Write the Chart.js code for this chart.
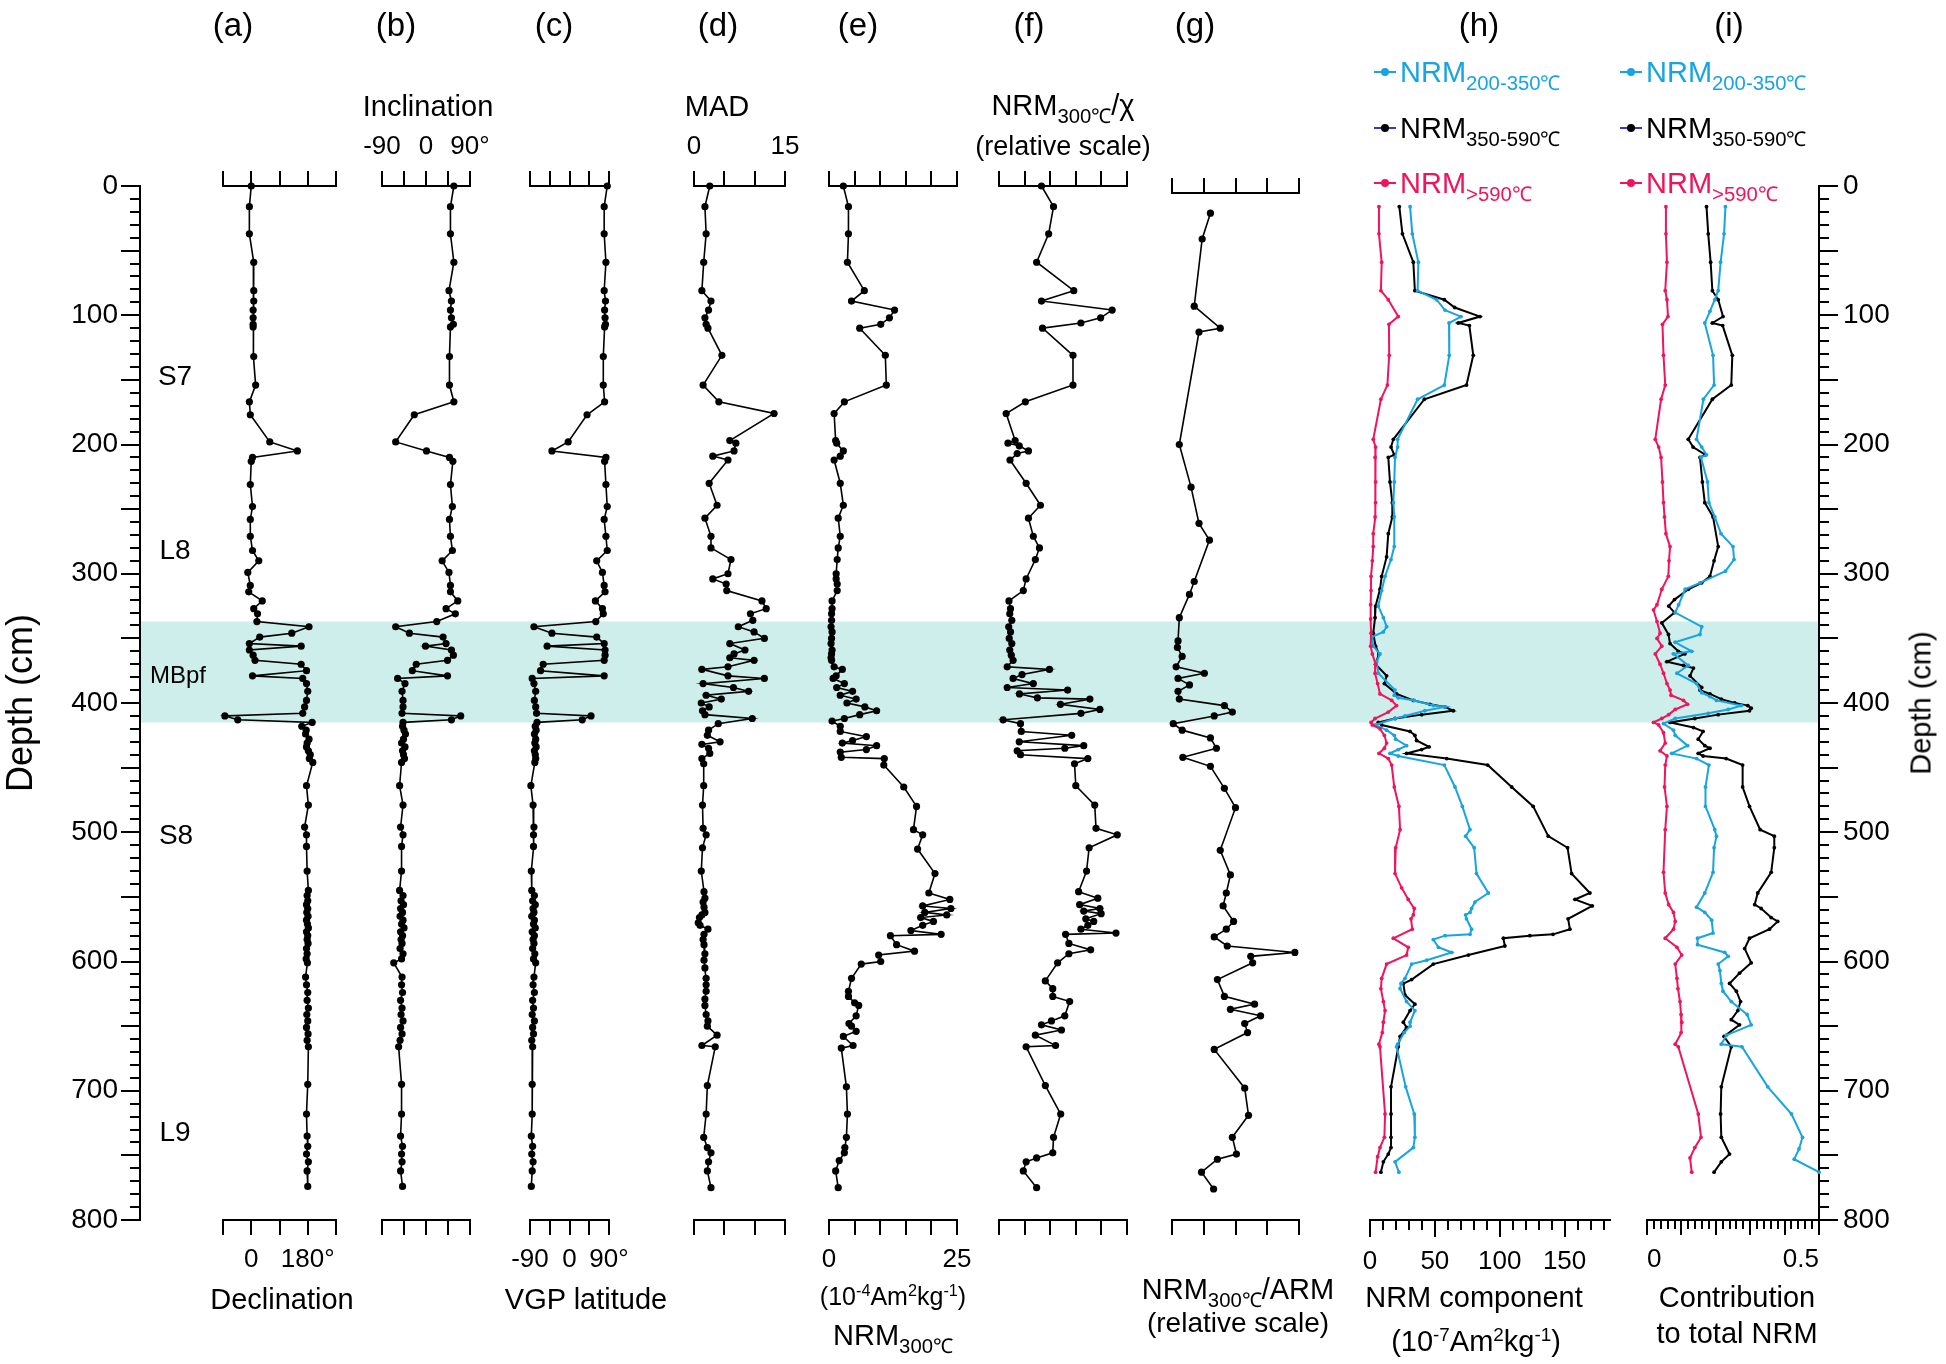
<!DOCTYPE html>
<html><head><meta charset="utf-8">
<script src="https://cdn.jsdelivr.net/npm/chart.js@4.4.1/dist/chart.umd.min.js"></script>
<style>
html,body{margin:0;padding:0;background:#fff;overflow:hidden;}
#wrap{position:relative;width:1946px;height:1364px;font-family:'Liberation Sans',Arial,Helvetica,sans-serif;color:#000;}
canvas{position:absolute;top:0;}
.t{position:absolute;transform:translate(-50%,-50%);white-space:nowrap;line-height:1;z-index:5;}
.t sub,.leg sub{font-size:0.7em;vertical-align:baseline;position:relative;top:0.38em;line-height:0;}
.t sup{font-size:0.65em;vertical-align:baseline;position:relative;top:-0.55em;line-height:0;}
.leg{position:absolute;transform:translateY(-50%);white-space:nowrap;line-height:1;font-size:29px;z-index:5;}
.mk{position:absolute;z-index:5;}
</style></head><body><div id="wrap"></div>
<script>
// ---------------- DATA ----------------
// Highlighted interval (MBpf), depth cm
const bandDepth = [337, 415];

// Panels a-c: paleomagnetic directions
const depthABC = [0,16,37,59,81,89,96,102,107,109, 132,154,167,177,198,205,210,213,231,248,
  258,271,282,290,299,309,314,321,327,331, 337,341,346,349,354,356,359,363,367,370,
  375,379,381,385,391,398,403,408,410,413, 415,418,421,424,428,431,434,437,440,443,
  446,464,479,496,502,511,530,545,549,553, 556,559,562,565,568,571,574,577,580,583,
  586,590,594,598,601,612,618,624,630,636, 641,646,651,656,661,666,695,718,735,743,
  749,755,762,774];
const declination = [0,-6,-6,8,8,8,6,6,6,6, 8,14,-6,-3,59,147,4,0,-3,4,
  -3,-3,4,24,-11,-3,-8,35,8,20, 18,184,129,27,-6,159,-6,6,12,159,
  176,4,164,176,180,176,170,164,-84,-43, 194,161,175,173,184,178,176,182,188,185,
  196,176,182,170,176,176,178,182,178,180, 176,180,177,181,176,179,182,176,180,178,
  181,176,178,175,179,173,176,180,178,182, 177,180,176,181,178,182,180,176,178,180,
  176,182,178,180];
const inclination = [57,50,50,57,47,52,50,52,56,50, 48,48,57,-24,-62,1,48,55,50,54,
  48,50,54,33,47,50,50,65,41,60, 22,-62,-34,35,41,-1,52,56,44,-20,
  -28,44,-58,-43,-49,-47,-47,-49,71,52, -47,-48,-45,-42,-46,-50,-43,-48,-46,-44,
  -50,-54,-47,-52,-47,-50,-50,-54,-47,-51, -46,-52,-48,-53,-47,-50,-45,-52,-48,-51,
  -49,-53,-47,-50,-66,-49,-50,-48,-52,-49, -51,-47,-52,-49,-53,-56,-50,-50,-52,-48,
  -50,-49,-52,-48];
const vgpLatitude = [86,79,79,83,79,82,80,81,82,80, 77,77,80,40,-3,-40,83,80,83,86,
  79,83,86,62,75,79,81,59,75,77, 60,-81,-40,62,79,-51,81,81,79,-60,
  -66,79,-85,-81,-77,-80,-77,-75,49,29, -74,-78,-76,-80,-77,-79,-76,-80,-78,-77,
  -79,-88,-83,-81,-82,-82,-87,-86,-80,-84, -78,-83,-81,-86,-80,-82,-78,-85,-80,-83,
  -81,-84,-79,-82,-77,-81,-83,-80,-84,-82, -85,-80,-84,-82,-86,-84,-85,-85,-87,-84,
  -86,-83,-85,-87];

// Panel d: MAD
const depthMAD = [0,16,37,59,81,89,96,102,107,110, 131,154,167,176,197,199,205,209,212,230,
  247,257,271,280,289,300,304,308,313,321, 327,331,336,341,345,350,354,359,362,365,
  367,372,374,379,381,385,388,391,394,397, 400,403,406,409,412,416,421,425,430,432,
  435,439,443,447,464,479,497,502,512,530, 546,551,554,558,562,564,566,570,572,575,
  579,583,587,594,599,605,613,618,623,629, 634,641,646,650,657,665,666,696,718,736,
  744,748,755,762,775];
const mad = [2.6,1.8,2.0,1.6,1.3,2.8,2.4,1.8,2.0,2.3, 4.6,1.5,4.1,13.2,5.9,6.9,6.6,3.1,5.6,2.5,
  3.8,1.8,2.8,2.8,6.1,5.6,3.1,5.3,5.4,11.2, 11.9,9.3,9.7,7.3,9.9,11.6,5.9,8.4,6.6,5.9,
  9.9,5.6,1.3,5.6,11.6,1.5,6.5,9.0,2.0,4.5, 1.2,2.5,1.4,1.8,9.6,4.0,2.4,2.2,4.3,1.3,
  2.4,2.6,1.3,1.6,1.6,1.4,1.5,2.0,1.4,1.2, 1.65,1.8,1.5,1.65,1.8,1.3,0.9,0.7,1.0,2.3,
  1.65,1.5,1.65,1.8,1.65,1.8,2.0,2.0,2.0,1.8, 1.8,2.0,2.3,2.2,3.8,1.3,3.5,2.2,2.0,1.6,
  2.2,2.8,2.4,2.2,2.8];

// Panel e: NRM300 (1e-4 Am2/kg)
const depthNRM = [0,16,37,59,81,89,96,102,107,110, 131,154,167,176,197,199,205,209,212,230,
  247,257,271,280,289,300,304,308,313,321, 327,331,336,341,345,350,354,359,362,365,
  367,372,374,379,381,385,388,391,394,397, 400,403,406,409,412,414,418,422,426,429,
  431,433,436,438,442,443,448,465,480,498, 502,513,532,547,552,557,559,562,564,566,
  569,572,576,579,580,587,592,595,600,602, 613,623,627,632,634,642,648,650,654,658,
  665,667,697,718,736,744,748,754,762,775];
const nrm300 = [2.8,3.8,3.8,3.6,6.9,4.4,12.8,11.8,10.1,6.0, 11.0,11.2,3.0,1.0,1.3,1.5,2.8,2.2,1.0,2.2,
  2.8,1.8,2.2,1.8,1.6,1.4,1.4,1.6,1.6,0.6, 0.6,0.5,0.5,0.4,0.6,0.5,0.4,0.6,0.5,0.4,
  0.5,1.0,2.6,1.4,0.8,3.0,1.5,4.6,2.2,5.3, 3.5,7.0,9.3,6.0,3.0,0.6,2.2,2.2,7.3,4.6,
  2.6,9.3,7.3,2.2,2.4,10.8,10.7,14.6,17.1,16.5, 18.3,17.3,20.7,19.5,23.6,18.3,23.8,18.7,23.0,17.9,
  20.4,18.3,16.0,21.9,12.0,13.2,16.7,9.7,10.1,6.3, 4.4,3.8,3.8,5.0,5.8,5.3,3.9,4.4,5.3,2.8,
  4.7,2.4,3.4,3.6,3.4,3.1,3.0,2.0,1.3,1.8];

// Panel f: NRM300/chi (relative)
const depthChi = [0,16,37,59,81,89,96,102,106,110, 131,154,167,176,197,199,201,205,207,212,
  230,247,257,271,280,289,304,313,321,327, 331,336,341,345,350,354,359,363,367,372,
  374,378,381,385,388,390,393,396,397,401, 405,408,413,416,422,425,430,433,435,437,
  440,443,447,464,479,497,502,512,530,546, 551,556,559,561,563,567,569,572,575,578,
  579,586,591,594,601,615,621,627,631,642, 646,649,653,657,665,666,696,718,736,748,
  752,755,762,775];
const nrmChi = [1.66,2.13,1.94,1.47,2.92,1.66,4.42,3.97,3.2,1.7, 2.89,2.89,1.03,0.28,0.63,0.35,0.79,1.15,0.71,0.43,
  1.06,1.62,1.15,1.34,1.58,1.42,1.06,0.95,0.39,0.45, 0.42,0.5,0.38,0.45,0.4,0.5,0.42,0.48,0.55,0.32,
  1.97,0.9,0.55,1.34,0.32,2.68,0.8,1.5,3.55,2.4, 3.94,3.2,0.16,0.84,0.87,2.84,0.79,3.31,2.57,0.71,
  0.84,3.47,2.95,3.0,3.74,3.79,4.62,3.52,3.42,3.11, 3.86,3.15,3.94,3.31,3.99,3.39,3.7,3.47,3.2,4.57,
  2.6,2.73,3.58,2.73,2.29,1.81,2.1,2.1,2.76,2.57, 2.05,1.66,2.44,1.42,2.21,1.06,1.81,2.41,2.13,2.1,
  1.47,1.06,0.95,1.47];

// Panel g: NRM300/ARM (relative)
const depthArm = [21,41,93,110,113,200,233,261,274,306, 316,334,352,357,364,372,377,381,386,391,
  397,402,407,410,416,421,427,435,442,449, 466,481,514,533,547,557,569,575,581,588,
  593,596,601,614,627,633,637,642,648,655, 668,698,719,736,749,753,763,776];
const nrmArm = [1.21,0.95,0.70,1.52,0.85,0.23,0.60,0.85,1.18,0.70, 0.55,0.23,0.19,0.17,0.32,0.13,1.02,0.19,0.55,0.19,
  0.23,1.65,1.90,1.33,0.04,0.32,1.21,1.40,0.34,1.21, 1.65,2.0,1.52,1.84,1.71,1.61,1.94,1.71,1.33,1.74,
  3.87,2.48,2.54,1.43,1.65,2.60,1.84,2.79,2.29,2.38, 1.33,2.29,2.41,1.90,2.03,1.43,0.93,1.31];

// Panel h: NRM components (1e-7 Am2/kg)
const depthLow = [16,37,59,81,88,101,107,131,154,165, 196,202,210,229,245,256,269,279,290,302,
  313,324,335,346,356,362,370,377,385,393, 398,402,407,412,415,417,420,425,431,435,
  439,443,448,465,480,498,512,532,543,552, 559,564,567,575,582,589,595,602,613,621,
  631,638,647,655,664,666,718,736,744,751, 763];
const nrmHigh590 = [6.9,6.9,9.0,8.4,14.1,21.8,14.6,14.8,13.4,8.4, 2.5,4.3,3.9,4.3,4.3,3.9,2.5,2.5,1.8,0.8,
  0.8,0.5,0.5,0.8,0.5,1.8,4.3,3.9,5.9,7.7, 16.7,20.5,14.1,3.9,0.8,1.8,7.7,11.1,12.8,11.1,
  6.9,14.1,16.7,18.7,22.3,23.2,19.8,19.3,24.4,29.5, 34.1,33.4,31.6,32.6,18.0,29.5,28.2,12.8,9.0,8.4,
  10.3,11.6,10.3,9.5,6.9,7.7,11.6,11.1,7.7,5.9, 4.3];
const depthMid = [16,37,59,81,88,94,101,106,108,131, 154,165,196,202,208,210,229,245,256,269,
  287,302,312,325,334,346,356,362,370,379, 385,393,398,401,403,406,409,412,415,417,
  422,425,429,434,436,439,443,448,465,480, 503,512,532,547,552,557,567,575,579,580,
  582,588,595,602,614,617,626,633,638,647, 651,658,666,697,718,736,744,749,755,763];
const nrm350590 = [22.6,25.0,33.4,34.6,57.3,65.3,84.8,68.0,76.6,79.6, 74.4,41.9,18.0,16.2,18.7,14.1,15.4,17.2,17.2,14.1,
  12.8,9.0,7.7,4.3,3.9,2.5,4.3,6.9,4.3,12.8, 11.1,20.5,33.4,46.2,57.8,64.2,39.8,19.3,6.4,9.0,
  30.9,34.6,35.9,45.5,39.8,28.2,59.1,90.7,109.2,125.8, 137.4,152.3,155.4,169.5,158.0,171.3,152.7,154.1,141.1,123.2,
  102.8,104.0,75.8,48.8,32.1,25.7,27.0,34.6,30.9,25.7, 28.2,23.2,21.8,16.2,16.2,16.2,16.2,14.1,10.3,8.4];
const depthBlue = [16,37,59,81,88,96,101,106,131,154, 165,196,202,210,229,245,256,279,289,302,
  313,325,334,341,345,349,356,362,368,377, 390,394,396,398,402,403,406,410,412,417,
  421,425,428,433,436,439,441,448,465,480, 498,503,512,532,547,554,559,562,564,567,
  575,579,580,583,589,593,599,602,613,617, 621,631,638,647,650,655,664,666,697,718,
  736,744,755,763];
const nrm200350 = [30.9,32.6,37.3,36.7,51.4,57.8,70.1,60.9,61.1,57.3, 36.7,21.3,21.3,19.3,18.7,18.0,18.7,18.7,16.2,11.6,
  9.0,6.4,10.3,12.8,10.3,1.3,2.5,7.7,5.2,6.4, 19.3,18.7,21.8,34.1,48.8,57.8,42.3,27.0,19.3,3.9,
  12.8,18.7,19.8,28.2,21.8,15.4,21.8,57.3,65.5,71.2, 77.1,73.7,80.3,82.1,91.2,80.9,78.3,77.1,73.7,74.4,
  78.3,77.1,57.8,48.8,52.7,63.0,43.7,32.1,27.0,23.9, 23.2,28.2,34.6,30.9,30.9,26.4,21.3,20.5,27.5,34.1,
  34.6,33.4,19.3,22.3];

// Panel i: contribution to total NRM
const depthFracHigh = [16,37,59,81,88,101,107,131,154,165, 196,202,210,229,245,256,269,279,290,302,
  312,324,328,337,346,350,356,362,370,377, 385,390,394,398,401,405,409,412,415,417,
  423,431,437,441,448,465,480,498,531,547, 556,562,569,575,582,589,595,602,613,621,
  631,641,647,655,664,666,718,736,744,752, 763];
const fracHigh590 = [0.055,0.055,0.058,0.053,0.058,0.061,0.045,0.048,0.053,0.041, 0.024,0.034,0.041,0.045,0.048,0.051,0.055,0.067,0.064,0.062,
  0.043,0.029,0.019,0.029,0.038,0.029,0.043,0.024,0.038,0.048, 0.058,0.067,0.07,0.106,0.118,0.082,0.063,0.043,0.019,0.034,
  0.048,0.053,0.038,0.058,0.053,0.051,0.058,0.053,0.048,0.053, 0.063,0.077,0.082,0.077,0.053,0.087,0.101,0.082,0.087,0.09,
  0.096,0.099,0.101,0.099,0.082,0.091,0.149,0.157,0.139,0.125, 0.130];
const depthFracMid = [16,37,59,81,88,101,106,108,131,154, 165,196,202,208,210,229,245,256,279,290,
  302,307,312,320,325,330,338,347,354,360, 362,368,371,373,379,388,390,393,397,400,
  402,404,406,409,412,415,419,422,428,433, 435,439,441,443,448,465,480,498,503,512,
  531,547,556,559,566,569,575,582,590,601, 609,617,623,631,638,645,649,658,666,697,
  718,736,749,755,763];
const frac350590 = [0.173,0.178,0.185,0.19,0.207,0.221,0.19,0.22,0.248,0.245, 0.19,0.12,0.134,0.17,0.154,0.161,0.168,0.192,0.207,0.195,
  0.183,0.159,0.120,0.080,0.063,0.080,0.043,0.0625,0.067,0.091, 0.11,0.058,0.106,0.135,0.125,0.159,0.154,0.183,0.216,0.255,
  0.293,0.303,0.298,0.207,0.139,0.067,0.135,0.163,0.149,0.168, 0.183,0.149,0.163,0.23,0.278,0.278,0.298,0.329,0.37,0.37,
  0.361,0.322,0.313,0.332,0.361,0.38,0.356,0.298,0.284,0.303, 0.269,0.24,0.26,0.272,0.264,0.245,0.269,0.224,0.245,0.216,
  0.214,0.216,0.24,0.216,0.195];
const depthFracLow = [16,37,59,81,88,97,106,131,154,165, 196,202,208,210,229,245,256,269,279,289,
  298,307,312,324,330,341,347,353,360,362, 371,377,385,392,395,398,402,405,408,412,
  416,421,425,433,439,443,448,465,480,498, 503,512,531,547,558,562,568,578,582,587,
  593,596,602,607,617,623,631,641,649,657, 664,666,697,718,736,745,753,763];
const frac200350 = [0.228,0.224,0.214,0.207,0.197,0.183,0.168,0.192,0.195,0.164, 0.144,0.159,0.173,0.157,0.176,0.18,0.197,0.215,0.25,0.253,
  0.228,0.154,0.111,0.092,0.082,0.159,0.154,0.082,0.13,0.077, 0.12,0.087,0.144,0.159,0.183,0.202,0.274,0.236,0.178,0.082,
  0.048,0.077,0.082,0.118,0.072,0.144,0.180,0.170,0.170,0.197, 0.202,0.195,0.192,0.168,0.144,0.168,0.188,0.192,0.147,0.147,
  0.226,0.236,0.207,0.212,0.216,0.221,0.245,0.291,0.303,0.231, 0.216,0.276,0.351,0.42,0.452,0.442,0.428,0.5];

// ---------------- DRAWING ----------------
Chart.defaults.font.family = "'Liberation Sans', Arial, Helvetica, sans-serif";
Chart.defaults.color = '#000';
const W = 1946, H = 1364, TOP = 186, BOT = 1220, DL = 140, DR = 1819;
const BLUE = '#18a4e0', RED = '#f0145a', BAND = '#cdeeea';
const wrap = document.getElementById('wrap');

function addCanvas(left, width) {
  const c = document.createElement('canvas');
  c.width = width; c.height = H;
  c.style.left = left + 'px'; c.style.width = width + 'px'; c.style.height = H + 'px';
  wrap.appendChild(c);
  return c;
}
const common = {responsive:false, maintainAspectRatio:false, animation:false, devicePixelRatio:1, events:[],
  plugins:{legend:{display:false}, tooltip:{enabled:false}}};

function depthAxis(pos, width, step, tl, withLabels) {
  return {
    type:'linear', position:pos, min:0, max:800, reverse:true,
    afterFit(s){ s.width = width; },
    afterBuildTicks(s){ const t=[]; for(let v=0; v<=800; v+=step) t.push({value:v}); s.ticks=t; },
    grid:{display:true, drawOnChartArea:false, drawTicks:true, tickLength:tl, color:'#000', lineWidth:2},
    border:{display:true, color:'#000', width:2},
    ticks:{display:withLabels, padding: pos==='left'?3:5, font:{size:28}, color:'#000',
      callback:(v)=> (v % 100 === 0 ? String(v) : '')}
  };
}
const framePad = {left:0, right:0, top:TOP, bottom:H-BOT};
new Chart(addCanvas(0, W), {
  type:'line',
  data:{datasets:[{
    data:[{x:0,y:bandDepth[0]},{x:1,y:bandDepth[0]},{x:1,y:bandDepth[1]},{x:0,y:bandDepth[1]}],
    xAxisID:'x', yAxisID:'yl', fill:'shape', backgroundColor:BAND, borderColor:'rgba(0,0,0,0)',
    borderWidth:1, pointRadius:0
  }]},
  options:{...common, layout:{padding:framePad}, scales:{
    x:{type:'linear', min:0, max:1, display:false},
    yl:depthAxis('left', DL, 50, 19, true),
    yr:depthAxis('right', W-DR, 50, 19, true)
  }}
});
new Chart(addCanvas(0, W), {
  type:'line', data:{datasets:[]},
  options:{...common, layout:{padding:framePad}, scales:{
    x:{type:'linear', min:0, max:1, display:false},
    yl:depthAxis('left', DL, 10, 10, false),
    yr:depthAxis('right', W-DR, 10, 10, false)
  }}
});

const AXH = 80, PAD = 50;
function xAxis(pos, p, ax) {
  return {
    type:'linear', position:pos, min:p.min, max:p.max,
    afterFit(s){ s.height = AXH; },
    afterBuildTicks(s){ s.ticks = ax.ticks.map(v=>({value:v})); },
    grid:{display:true, drawOnChartArea:false, drawTicks:true, tickLength:ax.tl, color:'#000', lineWidth:2},
    border:{display:true, color:'#000', width:2},
    ticks:{display:!!ax.labels, autoSkip:false, maxRotation:0, minRotation:0, padding:ax.pad||9, color:'#000',
      align: ax.align || 'center',
      font:{size:26}, callback:(v)=> (ax.labels && ax.labels[String(v)] !== undefined ? ax.labels[String(v)] : '')}
  };
}
function range(a, b, s) { const r=[]; const n=Math.round((b-a)/s); for(let k=0;k<=n;k++) r.push(Math.round((a+k*s)*1000)/1000); return r; }

function panel(p) {
  const w = p.x1 - p.x0 + 2*PAD;
  const top = p.top || TOP;
  const yMin = (top - TOP) / ((BOT - TOP) / 800);
  const padTop = p.topAxis ? top - AXH : top;
  const layout = {padding:{left:PAD, right:PAD, top:padTop, bottom:H-BOT-AXH}};
  const yS = {type:'linear', display:false, min:yMin, max:800, reverse:true};
  const scales = {y:yS, xb:xAxis('bottom', p, p.botAxis)};
  if (p.topAxis) scales.xt = xAxis('top', p, p.topAxis);
  const datasets = p.series.map(s => ({
    data: s.d.map((d,i)=>({x:s.v[i], y:d})),
    xAxisID:'xb', yAxisID:'y', borderColor:s.color, backgroundColor:s.color,
    pointBackgroundColor:s.color, pointBorderColor:s.color, pointBorderWidth:0,
    borderWidth:s.lw, pointRadius:s.r, clip:false, fill:false, tension:0
  }));
  new Chart(addCanvas(p.x0-PAD, w), {type:'line', data:{datasets}, options:{...common, layout, scales}});
  if (p.minor) {
    new Chart(addCanvas(p.x0-PAD, w), {type:'line', data:{datasets:[]},
      options:{...common, layout, scales:{y:yS, xb:xAxis('bottom', p, p.minor)}}});
  }
}
const K = (d, v) => ({d, v, color:'#000', lw:1.6, r:3.6});
panel({x0:223, x1:336, min:-90, max:270, series:[K(depthABC, declination)],
  topAxis:{ticks:range(-90,270,90), tl:15},
  botAxis:{ticks:range(-90,270,90), tl:15, labels:{'0':'0','180':'180°'}}});
panel({x0:382, x1:470, min:-90, max:90, series:[K(depthABC, inclination)],
  topAxis:{ticks:range(-90,90,45), tl:15, labels:{'-90':'-90','0':'0','90':'90°'}},
  botAxis:{ticks:range(-90,90,45), tl:15}});
panel({x0:530, x1:609, min:-90, max:90, series:[K(depthABC, vgpLatitude)],
  topAxis:{ticks:range(-90,90,45), tl:15},
  botAxis:{ticks:range(-90,90,45), tl:15, labels:{'-90':'-90','0':'0','90':'90°'}}});
panel({x0:694, x1:785, min:0, max:15, series:[K(depthMAD, mad)],
  topAxis:{ticks:range(0,15,5), tl:15, labels:{'0':'0','15':'15'}},
  botAxis:{ticks:range(0,15,5), tl:15}});
panel({x0:829, x1:957, min:0, max:25, series:[K(depthNRM, nrm300)],
  topAxis:{ticks:range(0,25,5), tl:15},
  botAxis:{ticks:range(0,25,5), tl:15, labels:{'0':'0','25':'25'}}});
panel({x0:999, x1:1127, min:0, max:5, series:[K(depthChi, nrmChi)],
  topAxis:{ticks:range(0,5,1), tl:15},
  botAxis:{ticks:range(0,5,1), tl:15}});
panel({x0:1172, x1:1299, min:0, max:4, top:193, series:[K(depthArm, nrmArm)],
  topAxis:{ticks:range(0,4,1), tl:15},
  botAxis:{ticks:range(0,4,1), tl:15}});
const C = (d, v, color) => ({d, v, color, lw:2, r:1.9});
panel({x0:1370, x1:1610, min:0, max:185,
  series:[C(depthLow, nrmHigh590, RED), C(depthBlue, nrm200350, BLUE), C(depthMid, nrm350590, '#000')],
  botAxis:{ticks:range(0,150,50), tl:17, labels:{'0':'0','50':'50','100':'100','150':'150'}},
  minor:{ticks:range(0,180,10), tl:10}});
panel({x0:1647, x1:1819, min:0, max:0.5,
  series:[C(depthFracHigh, fracHigh590, RED), C(depthFracLow, frac200350, BLUE), C(depthFracMid, frac350590, '#000')],
  botAxis:{ticks:range(0,0.5,0.1), tl:15, align:'inner', labels:{'0':'0','0.5':'0.5'}},
  minor:{ticks:range(0,0.5,0.02), tl:9}});

// ---------------- TEXT ----------------
function txt(html, x, y, size, extra) {
  const d = document.createElement('div');
  d.className = 't'; d.innerHTML = html;
  d.style.left = x + 'px'; d.style.top = y + 'px'; d.style.fontSize = size + 'px';
  if (extra) Object.assign(d.style, extra);
  wrap.appendChild(d);
}
[['(a)',233],['(b)',396],['(c)',554],['(d)',718],['(e)',858],['(f)',1029],['(g)',1195],['(h)',1479],['(i)',1729]]
  .forEach(([s,x]) => txt(s, x, 24, 33));
txt('Inclination', 428, 106, 29);
txt('MAD', 717, 106, 29);
txt('NRM<sub>300℃</sub>/χ', 1063, 105, 29);
txt('(relative scale)', 1063, 146, 27);
txt('Declination', 282, 1299, 29);
txt('VGP latitude', 586, 1299, 29);
txt('(10<sup>-4</sup>Am<sup>2</sup>kg<sup>-1</sup>)', 893, 1296, 25);
txt('NRM<sub>300℃</sub>', 893, 1335, 29);
txt('NRM<sub>300℃</sub>/ARM', 1238, 1289, 29);
txt('(relative scale)', 1238, 1323, 28);
txt('NRM component', 1474, 1297, 29);
txt('(10<sup>-7</sup>Am<sup>2</sup>kg<sup>-1</sup>)', 1476, 1341, 29);
txt('Contribution', 1737, 1297, 29);
txt('to total NRM', 1737, 1333, 29);
txt('S7', 175, 376, 28);
txt('L8', 175, 550, 28);
txt('MBpf', 178, 675, 24);
txt('S8', 176, 835, 28);
txt('L9', 175, 1132, 28);
txt('Depth (cm)', 20, 703, 36, {transform:'translate(-50%,-50%) rotate(-90deg)'});
txt('Depth (cm)', 1921, 703, 29, {transform:'translate(-50%,-50%) rotate(-90deg)'});

function legendRow(x, y, color, lineColor, dotColor, sub) {
  const ln = document.createElement('div'); ln.className = 'mk';
  Object.assign(ln.style, {left:(x)+'px', top:(y-1)+'px', width:'22px', height:'2px', background:lineColor});
  wrap.appendChild(ln);
  const dt = document.createElement('div'); dt.className = 'mk';
  Object.assign(dt.style, {left:(x+7)+'px', top:(y-4)+'px', width:'8px', height:'8px', borderRadius:'50%', background:dotColor});
  wrap.appendChild(dt);
  const d = document.createElement('div'); d.className = 'leg';
  d.style.left = (x+26)+'px'; d.style.top = y+'px'; d.style.color = color;
  d.innerHTML = 'NRM<sub>' + sub + '</sub>';
  wrap.appendChild(d);
}
[[1374],[1620]].forEach(([x]) => {
  legendRow(x, 72, BLUE, BLUE, BLUE, '200-350℃');
  legendRow(x, 128, '#000', '#3434d0', '#000', '350-590℃');
  legendRow(x, 183, RED, RED, RED, '&gt;590℃');
});
</script></body></html>
